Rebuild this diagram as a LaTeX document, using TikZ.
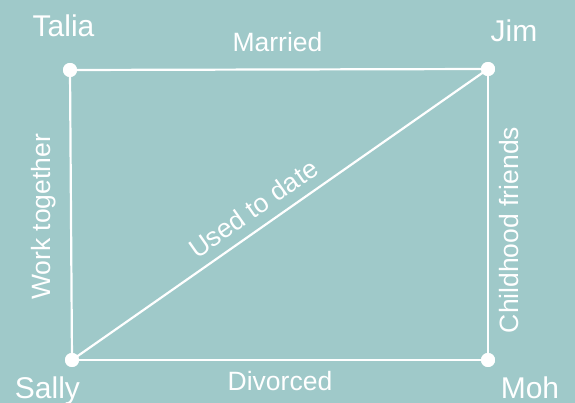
\documentclass[tikz,border=0pt]{standalone}
\usepackage{fontspec}
\setmainfont{Liberation Sans}
\definecolor{bg}{HTML}{9FC9C9}
\begin{document}
\begin{tikzpicture}[x=1pt,y=-1pt,
  dot/.style={circle,fill=white,inner sep=0pt,minimum size=14pt},
  link/.style={draw=white,line width=2.2pt},
  who/.style={text=white,font=\fontsize{30}{30}\selectfont,anchor=base,inner sep=0pt},
  rel/.style={text=white,font=\fontsize{26.5}{26.5}\selectfont,anchor=base,inner sep=0pt}]
\fill[bg] (0,0) rectangle (575,403);
\useasboundingbox (0,0) rectangle (575,403);
\node[dot] (T) at (70,70) {};
\node[dot] (J) at (488,69) {};
\node[dot] (S) at (72,360) {};
\node[dot] (M) at (488,360) {};
\draw[link] (T.center) -- (J.center);
\draw[link] (T.center) -- (S.center);
\draw[link] (S.center) -- (M.center);
\draw[link] (J.center) -- (M.center);
\draw[link] (S.center) -- (J.center);
\fill[white] (T) circle (7);
\fill[white] (J) circle (7);
\fill[white] (S) circle (7);
\fill[white] (M) circle (7);
\node[who] (lt) at (63.5,37) {Talia};
\node[who] (lj) at (514,42) {Jim};
\node[who] (ls) at (47.5,398) {Sally};
\node[who] (lm) at (530,398) {Moh};
\node[rel] (lmar) at (277.5,52) {Married};
\node[rel] (ldiv) at (280,390) {Divorced};
\node[rel,rotate=90] (lwork) at (50,217) {Work together};
\node[rel,rotate=90] (lchild) at (518,230) {Childhood friends};
\node[rel,rotate=35] (lused) at (258.6,216) {Used to date};
\end{tikzpicture}
\end{document}
